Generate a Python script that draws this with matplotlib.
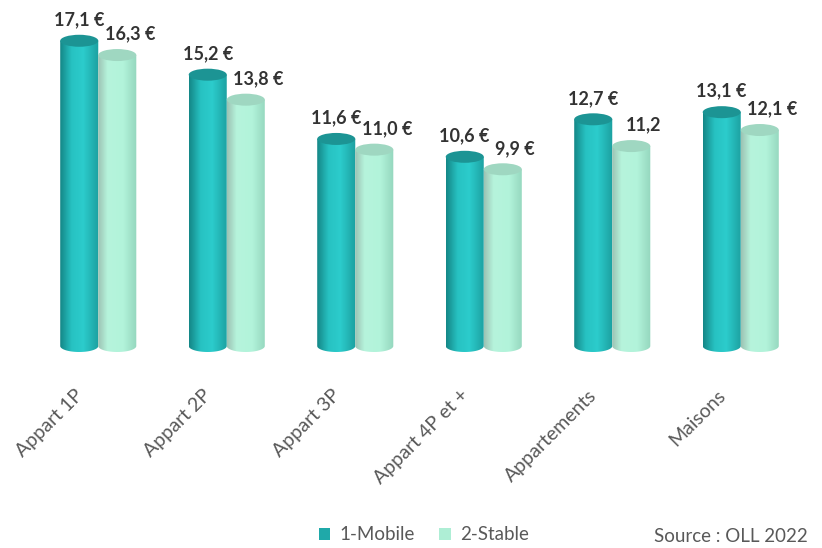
import numpy as np
import matplotlib.pyplot as plt
import matplotlib.transforms as mtransforms
from matplotlib.colors import LinearSegmentedColormap
from matplotlib.patches import Ellipse, Polygon, Patch

categories = ['Appart 1P', 'Appart 2P', 'Appart 3P', 'Appart 4P et +', 'Appartements', 'Maisons']
mobile = [17.1, 15.2, 11.6, 10.6, 12.7, 13.1]
stable = [16.3, 13.8, 11.0, 9.9, 11.2, 12.1]
mobile_labels = ['17,1 €', '15,2 €', '11,6 €', '10,6 €', '12,7 €', '13,1 €']
stable_labels = ['16,3 €', '13,8 €', '11,0 €', '9,9 €', '11,2', '12,1 €']

plt.rcParams['font.family'] = ['Lato', 'DejaVu Sans']

# cylinder shading, left to right across the bar
teal_cmap = LinearSegmentedColormap.from_list(
    'teal', [(0, '#148686'), (0.3, '#27c2c2'), (0.6, '#2ccccc'), (1, '#1c9f9f')])
mint_cmap = LinearSegmentedColormap.from_list(
    'mint', [(0, '#9cc2b3'), (0.25, '#b6f4dc'), (0.65, '#b2f3da'), (1, '#94d6bd')])
teal_top = '#1c9494'
mint_top = '#9fd7c1'

fig = plt.figure(figsize=(8.22, 5.48), dpi=100)
px_per_unit = 17.85
ell_h = 12 / px_per_unit  # full height of the elliptical caps
# axes runs from y=10px down to the bottom of the base ellipses
ax = fig.add_axes([34 / 822, (548 - 352) / 548, 771 / 822, 342 / 548])
ymax = 336 / px_per_unit

bar_w = 0.296
grad = np.linspace(0, 1, 256).reshape(1, -1)


def draw_cylinder(xc, h, cmap, top_color, z):
    x0, x1 = xc - bar_w / 2, xc + bar_w / 2
    t = np.linspace(np.pi, 2 * np.pi, 60)
    pts = [(x0, h), (x0, 0)]
    pts += list(zip(xc + bar_w / 2 * np.cos(t), ell_h / 2 * np.sin(t)))
    pts += [(x1, 0), (x1, h)]
    body = Polygon(pts, closed=True, facecolor='none', edgecolor='none')
    ax.add_patch(body)
    im = ax.imshow(grad, cmap=cmap, extent=[x0, x1, -ell_h / 2, h], aspect='auto',
                   zorder=z, interpolation='bilinear')
    im.set_clip_path(body)
    ax.add_patch(Ellipse((xc, h), bar_w, ell_h, facecolor=top_color,
                         edgecolor='none', zorder=z + 0.1))


x = np.arange(len(categories))
for i in range(len(categories)):
    draw_cylinder(x[i] - bar_w / 2, mobile[i], teal_cmap, teal_top, 2 + i)
    draw_cylinder(x[i] + bar_w / 2, stable[i], mint_cmap, mint_top, 2.5 + i)
    ax.annotate(mobile_labels[i], (x[i] - bar_w / 2, mobile[i]), xytext=(0, 9),
                textcoords='offset points', ha='center', va='bottom',
                fontsize=13, fontweight='bold', color='#333333')
    ax.annotate(stable_labels[i], (x[i] + bar_w / 2, stable[i]), xytext=(9, 9),
                textcoords='offset points', ha='center', va='bottom',
                fontsize=13, fontweight='bold', color='#333333')

ax.set_xlim(-0.5, len(categories) - 0.5)
ax.set_ylim(-ell_h / 2, ymax)
ax.set_xticks(x)
ax.set_xticklabels(categories, rotation=45, ha='right', va='top',
                   rotation_mode='anchor', fontsize=14, color='#595959')
ax.tick_params(axis='x', length=0, pad=25)
shift = mtransforms.ScaledTranslation(-24 / 100, 0, fig.dpi_scale_trans)
for lbl in ax.get_xticklabels():
    lbl.set_transform(lbl.get_transform() + shift)
ax.set_yticks([])
for s in ax.spines.values():
    s.set_visible(False)

handles = [Patch(facecolor='#1fa9a9', edgecolor='none', label='1-Mobile'),
           Patch(facecolor='#aeeed5', edgecolor='none', label='2-Stable')]
fig.legend(handles=handles, loc='center', bbox_to_anchor=(424 / 822, 1 - 535 / 548),
           ncol=2, frameon=False, fontsize=13.5, labelcolor='#595959',
           handlelength=0.6, handleheight=0.6, handletextpad=0.5, columnspacing=1.3)
fig.text(808 / 822, 1 - 537 / 548, 'Source : OLL 2022', ha='right', va='center',
         fontsize=13.5, color='#595959')

fig.savefig('out.png', dpi=100)
